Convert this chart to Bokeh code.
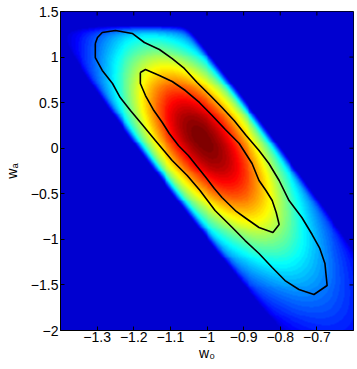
import numpy as np
from bokeh.plotting import figure
from bokeh.models import Range1d, LinearColorMapper, FixedTicker
from bokeh.embed import file_html
from bokeh.resources import INLINE

# ---------------- axes ----------------
w0_range = (-1.4, -0.6)
wa_range = (-2.0, 1.5)
w0_ticks = [-1.3, -1.2, -1.1, -1.0, -0.9, -0.8, -0.7]
w0_tick_labels = ["\u22121.3", "\u22121.2", "\u22121.1", "\u22121", "\u22120.9", "\u22120.8", "\u22120.7"]
wa_ticks = [-2.0, -1.5, -1.0, -0.5, 0.0, 0.5, 1.0, 1.5]
wa_tick_labels = ["\u22122", "\u22121.5", "\u22121", "\u22120.5", "0", "0.5", "1", "1.5"]
x_label = "w\u2080"
y_label = "w\u2090"

# ---------------- confidence contours ----------------
outer_w0 = [-1.305, -1.299, -1.286, -1.250, -1.204, -1.171, -1.130, -1.095, -1.062, -1.027,
            -0.991, -0.959, -0.926, -0.893, -0.858, -0.831, -0.803, -0.776, -0.741, -0.713,
            -0.692, -0.678, -0.672, -0.708, -0.749, -0.787, -0.822, -0.858, -0.896, -0.931,
            -0.978, -1.019, -1.054, -1.095, -1.141, -1.177, -1.209, -1.237, -1.258, -1.286,
            -1.305, -1.305]
outer_wa = [1.149, 1.215, 1.270, 1.292, 1.259, 1.160, 1.083, 0.984, 0.875, 0.721,
            0.578, 0.447, 0.304, 0.139, -0.025, -0.168, -0.354, -0.574, -0.760, -0.947,
            -1.100, -1.265, -1.506, -1.605, -1.550, -1.452, -1.309, -1.155, -1.013, -0.870,
            -0.683, -0.464, -0.299, -0.135, 0.085, 0.260, 0.414, 0.556, 0.710, 0.853,
            0.995, 1.149]
inner_w0 = [-1.182, -1.168, -1.130, -1.095, -1.059, -1.021, -0.986, -0.950, -0.912, -0.877,
            -0.858, -0.839, -0.822, -0.811, -0.803, -0.820, -0.858, -0.893, -0.920, -0.959,
            -0.980, -1.005, -1.027, -1.051, -1.078, -1.103, -1.122, -1.147, -1.168, -1.182,
            -1.182]
inner_wa = [0.831, 0.864, 0.798, 0.732, 0.633, 0.502, 0.359, 0.205, 0.052, -0.168,
            -0.354, -0.464, -0.574, -0.705, -0.837, -0.925, -0.870, -0.771, -0.694, -0.541,
            -0.442, -0.310, -0.201, -0.080, 0.030, 0.161, 0.282, 0.425, 0.578, 0.710,
            0.831]

# ---------------- likelihood surface parameters ----------------
peak_w0, peak_wa = -1.01, 0.12
ridge_angle_deg = 53.0          # direction of the degeneracy (in 0.1 w0 : 0.4 wa units)
scale_along_upper = 2.36        # along ridge, toward upper-left
scale_along_lower = 2.65        # along ridge, toward lower-right
tail_nu_upper = 60.0
tail_nu_lower = 4.0
across_offset = -0.05
sigma_across = 1.17
edge_across = 1.50
edge_softness = 0.062
wa_upper_edge = 1.325
wa_upper_softness = 0.03
floor_level = 0.08

nx, ny = 300, 330
gx = np.linspace(w0_range[0], w0_range[1], nx)
gy = np.linspace(wa_range[0], wa_range[1], ny)
W0, WA = np.meshgrid(gx, gy)
X = (W0 - peak_w0) / 0.1
Y = (WA - peak_wa) / 0.4
th = np.deg2rad(ridge_angle_deg)
u = X * np.cos(th) - Y * np.sin(th)
v = X * np.sin(th) + Y * np.cos(th) - across_offset
su = np.where(u < 0, scale_along_upper, scale_along_lower)
nu = np.where(u < 0, tail_nu_upper, tail_nu_lower)
along = (1.0 + (u / su) ** 2 / nu) ** (-nu / 2.0)
across = np.exp(-0.5 * (v / sigma_across) ** 2) / (1.0 + np.exp((np.abs(v) - edge_across) / edge_softness))
top_cut = 1.0 / (1.0 + np.exp((WA - wa_upper_edge) / wa_upper_softness))
surface = np.maximum(along * across * top_cut, floor_level)

# MATLAB-like jet(64)
def jet(n=64):
    cols = []
    for i in range(n):
        t = i / (n - 1)
        r = min(max(1.5 - abs(4 * t - 3), 0), 1)
        g = min(max(1.5 - abs(4 * t - 2), 0), 1)
        b = min(max(1.5 - abs(4 * t - 1), 0), 1)
        cols.append("#%02x%02x%02x" % (round(r * 255), round(g * 255), round(b * 255)))
    return cols

mapper = LinearColorMapper(palette=jet(64), low=0.0, high=1.0)

FONT = "Liberation Sans"
W, H = 357, 369
BL, BR, BT, BB = 58, 4, 11, 39

p = figure(width=W, height=H,
           x_range=Range1d(*w0_range), y_range=Range1d(*wa_range),
           output_backend="svg", toolbar_location=None,
           min_border_left=BL, min_border_right=BR, min_border_top=BT, min_border_bottom=BB)
p.grid.visible = False
p.outline_line_color = "black"
p.background_fill_color = "white"
p.border_fill_color = "white"

p.image(image=[surface], x=w0_range[0], y=wa_range[0],
        dw=w0_range[1] - w0_range[0], dh=wa_range[1] - wa_range[0], color_mapper=mapper)

p.line(outer_w0, outer_wa, line_color="black", line_width=1.6)
p.line(inner_w0, inner_wa, line_color="black", line_width=1.6)

for ax, ticks, labels, lab in ((p.xaxis[0], w0_ticks, w0_tick_labels, x_label),
                               (p.yaxis[0], wa_ticks, wa_tick_labels, y_label)):
    ax.ticker = FixedTicker(ticks=ticks)
    ax.major_label_overrides = dict(zip(ticks, labels))
    ax.major_tick_in = 4
    ax.major_tick_out = 0
    ax.minor_tick_in = 0
    ax.minor_tick_out = 0
    ax.axis_line_color = "black"
    ax.major_tick_line_color = "black"
    ax.major_label_text_font = FONT
    ax.major_label_text_font_size = "14px"
    ax.major_label_text_color = "black"
    ax.axis_label = lab
    ax.axis_label_text_font = FONT
    ax.axis_label_text_font_size = "14px"
    ax.axis_label_text_font_style = "normal"
    ax.axis_label_text_color = "black"
p.xaxis[0].major_label_standoff = 1
p.xaxis[0].axis_label_standoff = 0
p.yaxis[0].major_label_standoff = 2
p.yaxis[0].axis_label_standoff = 8

# mirrored inward ticks on the top and right frame edges (MATLAB box style)
tick_px = 4
frame_w = W - BL - BR
frame_h = H - BT - BB
dy_tick = tick_px * (wa_range[1] - wa_range[0]) / frame_h
dx_tick = tick_px * (w0_range[1] - w0_range[0]) / frame_w
p.segment(x0=w0_ticks, y0=[wa_range[1]] * len(w0_ticks),
          x1=w0_ticks, y1=[wa_range[1] - dy_tick] * len(w0_ticks), line_color="black", line_width=1)
p.segment(x0=[w0_range[1]] * len(wa_ticks), y0=wa_ticks,
          x1=[w0_range[1] - dx_tick] * len(wa_ticks), y1=wa_ticks, line_color="black", line_width=1)

open("out.html", "w").write(file_html(p, INLINE))
